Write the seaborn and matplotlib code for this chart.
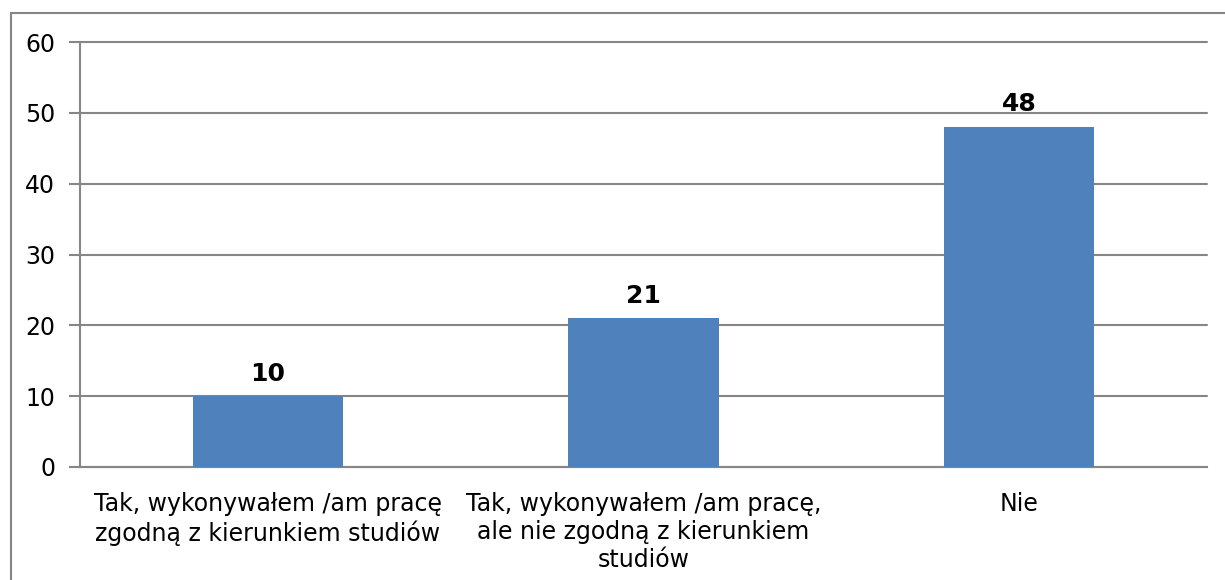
import matplotlib
matplotlib.use("Agg")
import matplotlib.pyplot as plt
import seaborn as sns
import pandas as pd
from matplotlib.patches import Rectangle

# dane z wykresu
categories = [
    "Tak, wykonywałem /am pracę\nzgodną z kierunkiem studiów",
    "Tak, wykonywałem /am pracę,\nale nie zgodną z kierunkiem\nstudiów",
    "Nie",
]
values = [10, 21, 48]
y_ticks = [0, 10, 20, 30, 40, 50, 60]

bar_color = "#4F81BD"
grid_color = "#868686"

sns.set_style("white")
plt.rcParams['font.family'] = ['DejaVu Sans']
plt.rcParams['text.color'] = 'black'
plt.rcParams['xtick.color'] = 'black'
plt.rcParams['ytick.color'] = 'black'

df = pd.DataFrame({"Kategoria": categories, "Liczba": values})

fig = plt.figure(figsize=(12.25, 5.8), dpi=100)
ax = fig.add_axes([80 / 1225, 113 / 580, 1127 / 1225, 425 / 580])

sns.barplot(data=df, x="Kategoria", y="Liczba", color=bar_color,
            width=0.4, saturation=1, linewidth=0, ax=ax, zorder=3)

# etykiety wartości nad słupkami
for i, v in enumerate(values):
    ax.text(i, v + 2.2, str(v), ha="center", va="baseline",
            fontsize=18, fontweight="bold", color="black")

ax.set_xlim(-0.5, 2.5)
ax.set_ylim(0, 60)
ax.set_yticks(y_ticks)
ax.yaxis.grid(True, color=grid_color, linewidth=1.5, zorder=0)
for gl in ax.yaxis.get_gridlines():
    gl.set_clip_on(False)
ax.set_axisbelow(True)
ax.set_xlabel("")
ax.set_ylabel("")

# znaczniki osi X na granicach kategorii
ax.set_xticks([-0.5, 0.5, 1.5, 2.5], minor=True)
ax.tick_params(axis="x", which="major", length=0, pad=18, labelsize=17,
               labelcolor="black")
ax.tick_params(axis="x", which="minor", length=7, width=1.5, color=grid_color,
               direction="out")
ax.tick_params(axis="y", length=8, width=1.5, color=grid_color, labelsize=17,
               pad=10, left=True, direction="out", labelcolor="black")

for side in ["top", "right"]:
    ax.spines[side].set_visible(False)
for side in ["left", "bottom"]:
    ax.spines[side].set_color(grid_color)
    ax.spines[side].set_linewidth(1.5)

# ramka wokół całego wykresu
fig.patches.append(Rectangle((11 / 1225, -0.1), 1.2, (580 - 13) / 580 + 0.1,
                             transform=fig.transFigure, fill=False,
                             edgecolor=grid_color, linewidth=1.5))

fig.savefig("out.png", dpi=100)
